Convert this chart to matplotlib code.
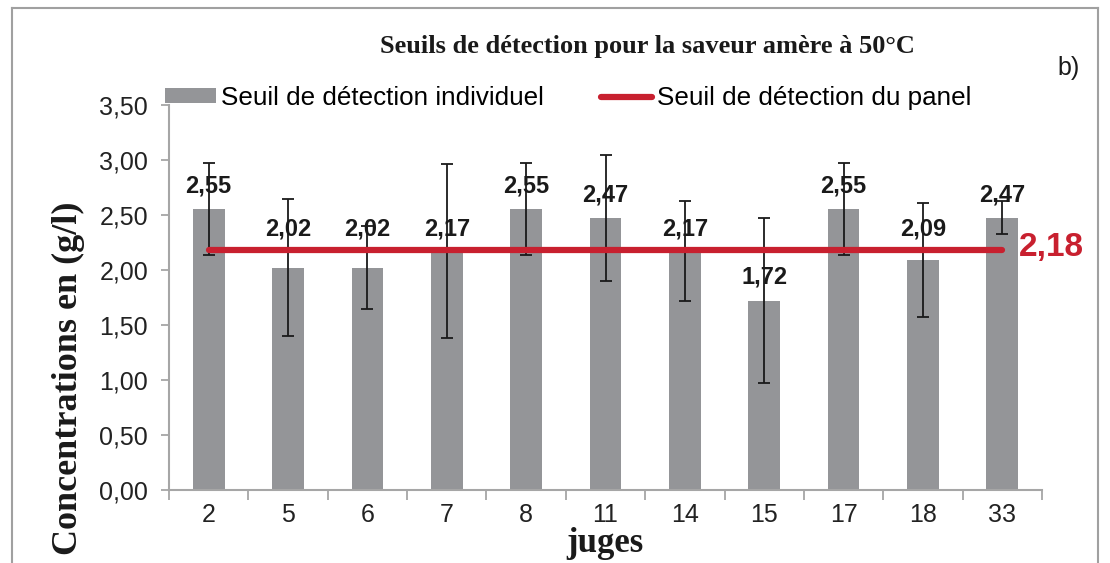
import matplotlib
matplotlib.use('Agg')
import matplotlib.pyplot as plt
from matplotlib.ticker import FuncFormatter, FixedLocator
from matplotlib.lines import Line2D

# data
juges = ['2', '5', '6', '7', '8', '11', '14', '15', '17', '18', '33']
seuils = [2.55, 2.02, 2.02, 2.17, 2.55, 2.47, 2.17, 1.72, 2.55, 2.09, 2.47]
erreurs = [0.42, 0.62, 0.38, 0.79, 0.42, 0.57, 0.45, 0.75, 0.42, 0.52, 0.15]
seuil_panel = 2.18

plt.rcParams['font.family'] = ['Liberation Sans', 'DejaVu Sans']

W, H = 1110, 563
fig = plt.figure(figsize=(W / 100, H / 100), dpi=100)
ax = fig.add_axes([169 / W, 1 - 490 / H, 873 / W, (490 - 104.5) / H])

x = list(range(len(juges)))
gris = '#949598'
rouge = '#c8202f'
barres = ax.bar(x, seuils, width=0.4, color=gris, label='Seuil de détection individuel', zorder=2)
ax.errorbar(x, seuils, yerr=erreurs, fmt='none', ecolor='#1a1a1a', elinewidth=1.3,
            capsize=4, capthick=1.3, zorder=3)
ligne, = ax.plot([x[0], x[-1]], [seuil_panel, seuil_panel], color=rouge, lw=4.5,
                 solid_capstyle='round', label='Seuil de détection du panel', zorder=4)

# valeurs au-dessus des barres (Excel pousse celles juste sous la ligne rouge)
for xi, v in zip(x, seuils):
    if 0 < seuil_panel - v < 0.2:
        ax.annotate(f'{v:.2f}'.replace('.', ','), (xi, seuil_panel), xytext=(0, 10),
                    textcoords='offset points', ha='center', va='baseline',
                    fontsize=17, fontweight='bold', color='#1a1a1a', zorder=5)
    else:
        ax.annotate(f'{v:.2f}'.replace('.', ','), (xi, v), xytext=(0, 12),
                    textcoords='offset points', ha='center', va='baseline',
                    fontsize=17, fontweight='bold', color='#1a1a1a', zorder=5)

ax.annotate(f'{seuil_panel:.2f}'.replace('.', ','), (x[-1], seuil_panel), xytext=(12, 2),
            textcoords='offset points', ha='left', va='center',
            fontsize=24, fontweight='bold', color=rouge)

ax.set_xlim(-0.5, len(juges) - 0.5)
ax.set_ylim(0, 3.5)
ax.set_yticks([i * 0.5 for i in range(8)])
ax.yaxis.set_major_formatter(FuncFormatter(lambda v, p: f'{v:.2f}'.replace('.', ',')))
ax.set_xticks(x)
ax.set_xticklabels(juges)
ax.xaxis.set_minor_locator(FixedLocator([i - 0.5 for i in range(len(juges) + 1)]))
ax.tick_params(axis='x', which='major', length=0, labelsize=18, pad=9, colors='#222222')
ax.tick_params(axis='x', which='minor', length=7, width=1.3, color='#a6a6a6')
ax.tick_params(axis='y', length=6, width=1.3, color='#a6a6a6', labelsize=18,
               labelcolor='#222222', pad=9)
for s in ['top', 'right']:
    ax.spines[s].set_visible(False)
for s in ['left', 'bottom']:
    ax.spines[s].set_color('#a6a6a6')
    ax.spines[s].set_linewidth(1.5)

ax.legend([barres, ligne], ['Seuil de détection individuel', 'Seuil de détection du panel'],
          ncol=2, loc='center left', bbox_to_anchor=(165 / W, 1 - 98 / H),
          bbox_transform=fig.transFigure, frameon=False, fontsize=18.7,
          handlelength=1.95, handleheight=0.5, handletextpad=0.2,
          columnspacing=2.2, borderpad=0, borderaxespad=0)

fig.text(647 / W, 1 - 47 / H, 'Seuils de détection pour la saveur amère à 50°C',
         ha='center', va='center', fontsize=19, fontweight='bold',
         family='Liberation Serif', color='#1a1a1a')
fig.text(1069 / W, 1 - 68 / H, 'b)', ha='center', va='center', fontsize=18, color='#1a1a1a')
fig.text(68 / W, 1 - 378 / H, 'Concentrations en (g/l)', rotation=90, ha='center',
         va='center', fontsize=26, fontweight='bold', family='Liberation Serif',
         color='#1a1a1a')
fig.text(605 / W, 1 - 544 / H, 'juges', ha='center', va='center', fontsize=25,
         fontweight='bold', family='Liberation Serif', color='#1a1a1a')

# cadre gris autour du graphique (pas de bord en bas, image rognée)
cadre = dict(color='#a0a0a0', lw=1.5, transform=fig.transFigure)
fig.add_artist(Line2D([12 / W, 12 / W], [0, 1 - 8 / H], **cadre))
fig.add_artist(Line2D([12 / W, 1098 / W], [1 - 8 / H, 1 - 8 / H], **cadre))
fig.add_artist(Line2D([1098 / W, 1098 / W], [1 - 8 / H, 0], **cadre))

fig.savefig('out.png', dpi=100)
